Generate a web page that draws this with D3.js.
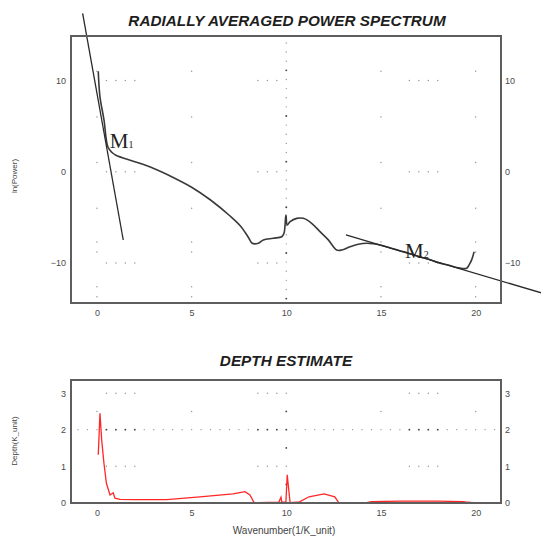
<!DOCTYPE html>
<html>
<head>
<meta charset="utf-8">
<script src="https://cdn.jsdelivr.net/npm/d3@7"></script>
<style>
  html, body { margin: 0; padding: 0; background: #fff; }
  svg { display: block; }
  text { font-family: "Liberation Sans", Arial, sans-serif; }
</style>
</head>
<body>
<svg id="chart" width="541" height="548"></svg>
<script>
// ---- data -------------------------------------------------------------
// radially averaged spectrum: wavenumber (1/K_unit) and ln(Power)
const specK = [0.07, 0.16, 0.37, 0.58, 0.8, 1.0, 2.0, 3.0, 4.0, 5.0, 6.0, 7.0, 7.6, 8.0, 8.2, 8.52,
  8.79, 9.31, 9.76, 9.88, 9.98, 10.05, 10.2, 10.55, 10.9, 11.34, 11.78, 12.22, 12.66, 12.93,
  13.37, 13.8, 14.25, 14.6, 14.95, 15.5, 16.0, 16.5, 17.0, 17.5, 18.0, 18.5, 19.0, 19.3,
  19.53, 19.7, 19.8, 19.92];
const specLnP = [11.0, 8.2, 5.7, 2.7, 2.1, 1.8, 1.1, 0.35, -0.6, -1.7, -3.1, -4.8, -6.0, -7.2, -7.84, -7.84,
  -7.47, -7.29, -7.12, -6.75, -4.74, -5.84, -5.48, -5.11, -5.11, -5.65, -6.57, -7.47, -8.58, -8.58,
  -8.21, -7.95, -7.84, -7.9, -8.03, -8.35, -8.65, -8.95, -9.3, -9.55, -9.95, -10.2, -10.5, -10.6,
  -10.58, -10.03, -9.6, -8.76];

// fitted segments (start / end points in data units)
const fitM1 = [[-0.755, 17.35], [1.39, -7.48]];
const fitM2 = [[13.15, -6.93], [23.6, -13.35]];

// depth estimate: wavenumber and depth (K_unit)
const depthK = [0.07, 0.16, 0.25, 0.37, 0.5, 0.69, 0.86, 0.95, 1.22, 2.0, 3.68, 5.44, 7.18, 7.82,
  8.08, 8.29, 8.5, 9.6, 9.72, 9.76, 9.8, 9.98, 10.05, 10.2, 10.7, 11.2, 12.0, 12.56, 12.77,
  14.25, 14.5, 16.0, 18.0, 19.35, 19.6, 19.8];
const depthZ = [1.31, 2.45, 1.72, 1.08, 0.53, 0.21, 0.27, 0.12, 0.09, 0.08, 0.08, 0.16, 0.24, 0.30,
  0.21, 0.01, 0.0, 0.01, 0.15, 0.02, 0.01, 0.02, 0.76, 0.0, 0.02, 0.16, 0.24, 0.16, 0.0,
  0.0, 0.03, 0.04, 0.04, 0.03, 0.01, 0.0];

// axis ticks
const xTicks = [0, 5, 10, 15, 20];
const lnTicks = [-10, 0, 10];
const depthTicks = [0, 1, 2, 3];

// grid dot positions
const dotRunX = [0.5, 1, 1.5, 2, 8.5, 9, 9.5, 16.5, 17, 17.5, 18];
const colX = [0, 5, 15, 20];
const lnColY = [11, 6, 1, -4, -7.7, -8.8, -12.6, -13.7];
const lnRowY = [10, 0, -10];
const depthRowY = [3, 1];
const depthColY = [2.5];
const depthMidColY = [2.5, 1.5, 0.5];

// ---- layout -------------------------------------------------------------
const svg = d3.select("#chart");
const boxTop = { l: 71, r: 501, t: 36, b: 303 };
const boxBot = { l: 71, r: 501, t: 380, b: 503 };

const x1 = d3.scaleLinear().domain([-1.37, 21.34]).range([boxTop.l, boxTop.r]);
const y1 = d3.scaleLinear().domain([-14.38, 14.86]).range([boxTop.b, boxTop.t]);
const x2 = d3.scaleLinear().domain([-1.37, 21.34]).range([boxBot.l, boxBot.r]);
const y2 = d3.scaleLinear().domain([-0.01, 3.36]).range([boxBot.b, boxBot.t]);

const frameCol = "#5e5e5e";
const tickCol = "#4a4a4a";
const dotLight = "#9a9a9a";
const dotDark = "#444";

function dot(g, x, y, col, r) {
  g.append("circle").attr("cx", x).attr("cy", y).attr("r", r || 0.75).attr("fill", col);
}

function axes(g, xs, ys, box, yt) {
  const fmt = d3.format("d");
  const ax = g.append("g").attr("transform", `translate(0,${box.b + 2})`)
    .call(d3.axisBottom(xs).tickValues(xTicks).tickFormat(fmt).tickSize(0).tickPadding(5));
  const al = g.append("g").attr("transform", `translate(${box.l - 5},0)`)
    .call(d3.axisLeft(ys).tickValues(yt).tickFormat(fmt).tickSize(0).tickPadding(0));
  const ar = g.append("g").attr("transform", `translate(${box.r + 4},0)`)
    .call(d3.axisRight(ys).tickValues(yt).tickFormat(fmt).tickSize(0).tickPadding(0));
  [ax, al, ar].forEach(a => {
    a.select(".domain").remove();
    a.selectAll("text").attr("fill", tickCol).style("font-size", "9px")
      .style("font-family", "'Liberation Sans', Arial, sans-serif");
  });
}

function frame(box) {
  svg.append("rect").attr("x", box.l).attr("y", box.t)
    .attr("width", box.r - box.l).attr("height", box.b - box.t)
    .attr("fill", "none").attr("stroke", frameCol).attr("stroke-width", 2);
}

// ---- power spectrum panel ---------------------------------------------
const gTop = svg.append("g");

// dense dotted column at k = 10
d3.range(-14, 15).forEach(v => {
  const dark = [11, 6, 1, -4, -9, -14].includes(v);
  dot(gTop, x1(10), y1(v + 0.1), dark ? dotDark : dotLight, dark ? 0.95 : 0.7);
});
colX.forEach(k => lnColY.forEach(v => dot(gTop, x1(k), y1(v), dotLight)));
lnRowY.forEach(v => dotRunX.forEach(k => dot(gTop, x1(k), y1(v), dotLight)));

frame(boxTop);
axes(gTop, x1, y1, boxTop, lnTicks);

const lineTop = d3.line().x(d => x1(d[0])).y(d => y1(d[1])).curve(d3.curveCatmullRom.alpha(0.5));
gTop.append("path").datum(specK.map((k, i) => [k, specLnP[i]]))
  .attr("d", lineTop).attr("fill", "none").attr("stroke", "#3a3a3a").attr("stroke-width", 1.6);

const lineStraight = d3.line().x(d => x1(d[0])).y(d => y1(d[1]));
[fitM1, fitM2].forEach(seg => {
  gTop.append("path").datum(seg).attr("d", lineStraight)
    .attr("fill", "none").attr("stroke", "#2a2a2a").attr("stroke-width", 1.3);
});

function mLabel(x, y, sub) {
  const t = gTop.append("text").attr("x", x).attr("y", y)
    .style("font-family", "'Liberation Serif', 'Times New Roman', serif")
    .style("font-size", "21px").attr("fill", "#222");
  t.append("tspan").text("M");
  t.append("tspan").text(sub).style("font-size", "10px");
}
mLabel(x1(0.68), y1(2.6), "1");
mLabel(x1(16.27), y1(-9.4), "2");

// titles and axis names
svg.append("text").attr("x", 287).attr("y", 26).attr("text-anchor", "middle")
  .style("font-size", "15.3px").style("font-weight", "bold").style("font-style", "italic")
  .attr("fill", "#1e1e1e").text("RADIALLY AVERAGED POWER SPECTRUM");
svg.append("text").attr("transform", "translate(17,176) rotate(-90)").attr("text-anchor", "middle")
  .style("font-size", "8px").attr("fill", "#444").text("ln(Power)");

// ---- depth estimate panel -----------------------------------------------
const gBot = svg.append("g");

d3.range(-1, 21.5, 0.5).forEach(k => {
  const dark = dotRunX.includes(k) || k === 10;
  dot(gBot, x2(k), y2(2), dark ? dotDark : dotLight, dark ? 0.95 : 0.7);
});
depthRowY.forEach(v => dotRunX.concat([10]).forEach(k => dot(gBot, x2(k), y2(v), dotLight)));
colX.forEach(k => depthColY.forEach(v => dot(gBot, x2(k), y2(v), dotLight)));
depthMidColY.forEach(v => dot(gBot, x2(10), y2(v), dotDark, 0.9));

frame(boxBot);
axes(gBot, x2, y2, boxBot, depthTicks);

const lineBot = d3.line().x(d => x2(d[0])).y(d => y2(d[1]));
gBot.append("path").datum(depthK.map((k, i) => [k, depthZ[i]]))
  .attr("d", lineBot).attr("fill", "none").attr("stroke", "#ff2626").attr("stroke-width", 1.3);

svg.append("text").attr("x", 286).attr("y", 366).attr("text-anchor", "middle")
  .style("font-size", "15.3px").style("font-weight", "bold").style("font-style", "italic")
  .attr("fill", "#1e1e1e").text("DEPTH ESTIMATE");
svg.append("text").attr("transform", "translate(17,441) rotate(-90)").attr("text-anchor", "middle")
  .style("font-size", "8px").attr("fill", "#444").text("Depth(K_unit)");
svg.append("text").attr("x", 284).attr("y", 534).attr("text-anchor", "middle")
  .style("font-size", "10px").attr("fill", "#444").text("Wavenumber(1/K_unit)");
</script>
</body>
</html>
